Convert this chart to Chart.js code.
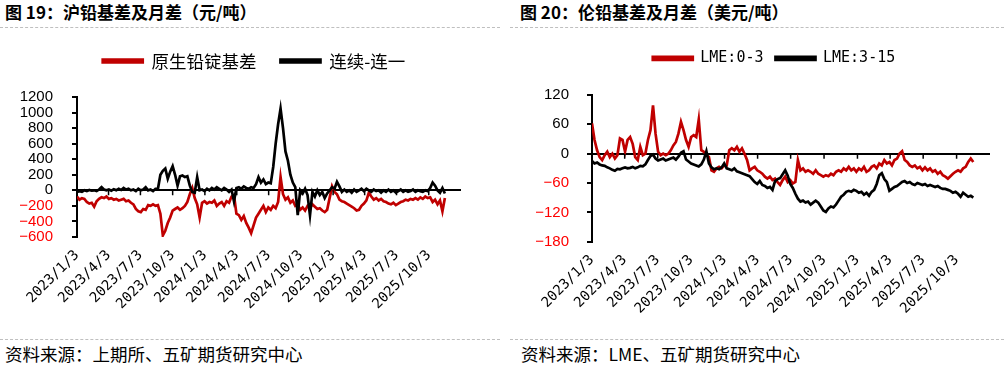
<!DOCTYPE html>
<html><head><meta charset="utf-8">
<script src="https://cdn.jsdelivr.net/npm/chart.js@4.4.0/dist/chart.umd.min.js"></script>
<style>
body{margin:0;width:1004px;height:368px;background:#fff;position:relative;overflow:hidden;font-family:"Noto Sans CJK SC",sans-serif}
.title{position:absolute;top:0;font-weight:bold;font-size:17px;line-height:23px;white-space:nowrap;color:#000}
.src{position:absolute;top:343px;font-size:17.5px;line-height:22px;white-space:nowrap;color:#000}
.dash{position:absolute;height:0;border-top:1px dashed #BFBFBF}
canvas{position:absolute}
</style></head>
<body>
<div class="title" style="left:5px">图 19：沪铅基差及月差（元/吨）</div>
<div class="title" style="left:520px">图 20：伦铅基差及月差（美元/吨）</div>
<div class="dash" style="left:0;top:27px;width:500px"></div>
<div class="dash" style="left:510px;top:27px;width:494px"></div>
<div class="dash" style="left:0;top:339px;width:500px"></div>
<div class="dash" style="left:510px;top:339px;width:494px"></div>
<div class="src" style="left:5px">资料来源：上期所、五矿期货研究中心</div>
<div class="src" style="left:521px">资料来源：LME、五矿期货研究中心</div>
<canvas id="c1" width="508" height="310" style="left:0;top:20px"></canvas>
<canvas id="c2" width="528" height="310" style="left:510px;top:20px"></canvas>
<script>
// ---- data (weekly observations starting 2023/1/3) ----
const startDate = '2023/1/3';
const axisEndDate = '2026/1/3';
const stepDays = 7;
const xTickLabels = ['2023/1/3','2023/4/3','2023/7/3','2023/10/3','2024/1/3','2024/4/3','2024/7/3','2024/10/3','2025/1/3','2025/4/3','2025/7/3','2025/10/3'];
const yTicks1 = [-600,-400,-200,0,200,400,600,800,1000,1200];
const yTickLabels1 = ['\u2212600','\u2212400','\u2212200','0','200','400','600','800','1000','1200'];
const yTicks2 = [-180,-120,-60,0,60,120];
const yTickLabels2 = ['\u2212180','\u2212120','\u221260','0','60','120'];

const seriesNames1 = ['原生铅锭基差','连续-连一'];
const shBasis = [-80,-120,-100,-110,-150,-170,-160,-210,-140,-110,
 -90,-100,-80,-110,-100,-120,-110,-130,-120,-110,
 -140,-130,-160,-180,-240,-270,-280,-240,-250,-190,
 -200,-180,-200,-190,-300,-580,-520,-420,-350,-260,
 -240,-220,-250,-230,-200,-150,-50,30,-100,-180,
 -350,-160,-140,-170,-150,-160,-130,-200,-170,-150,
 -200,-140,-160,-80,-60,-300,-320,-380,-330,-420,
 -480,-550,-450,-350,-300,-250,-200,-280,-220,-250,
 -200,-230,-150,170,-50,-120,-90,-160,-130,-200,
 -180,-250,-220,-260,-200,-230,-180,-210,-240,-230,
 -260,-280,-250,-100,50,-20,-50,-120,-140,-150,
 -170,-190,-210,-230,-260,-250,-200,-170,-130,-30,
 -80,-120,-100,-130,-110,-140,-150,-170,-180,-160,
 -190,-170,-150,-140,-120,-130,-110,-120,-100,-120,
 -90,-110,-80,-100,-90,-150,-120,-180,-130,-270,-100];
const shSpread = [-20,-10,-20,0,-10,5,-5,0,-10,10,
 40,10,0,10,-5,15,0,20,5,30,
 10,20,0,10,-10,20,0,10,40,0,
 10,-10,20,20,200,250,280,150,240,310,
 200,60,180,190,170,180,60,-20,-30,170,
 0,10,-10,20,0,30,10,40,20,0,
 30,10,-20,10,-140,30,40,20,50,30,
 20,40,30,80,170,100,140,80,100,90,
 300,600,850,1050,800,500,380,200,100,40,
 -320,0,-40,20,-60,-320,-20,-80,0,-60,
 -20,-100,-40,0,40,20,110,50,-20,10,
 -20,0,-30,10,-20,0,20,-10,20,0,
 -20,10,-10,0,-30,0,-20,10,-20,0,
 -30,-10,10,-20,0,-20,-10,10,-20,0,
 -10,-20,0,-10,30,100,60,0,-30,30,-40];

const seriesNames2 = ['LME:0-3','LME:3-15'];
const lme03 = [62,28,7,-7,-13,-3,4,-7,0,-10,
 -3,31,28,4,28,34,20,-7,-13,14,
 -3,0,28,48,99,41,4,-3,0,-3,
 0,7,17,24,41,65,48,28,14,34,
 38,34,70,7,4,-3,-7,-34,-37,-30,
 -27,-30,-24,-24,7,11,7,14,4,11,
 0,-13,-34,-30,-27,-34,-37,-41,-47,-51,
 -47,-54,-51,-58,-64,-54,-47,-58,-54,-61,
 -58,-13,-34,-30,-37,-34,-37,-41,-34,-41,
 -44,-47,-44,-46,-41,-44,-37,-34,-37,-30,
 -34,-27,-34,-30,-37,-30,-34,-27,-37,-34,
 -27,-24,-30,-20,-24,-13,-20,-17,-24,-13,
 -10,0,5,-13,-17,-24,-27,-24,-30,-27,
 -34,-28,-34,-30,-37,-34,-41,-37,-44,-47,
 -51,-46,-41,-37,-34,-37,-30,-27,-17,-10,-17];
const lme315 = [-15,-20,-18,-22,-24,-25,-28,-30,-33,-35,
 -31,-32,-30,-28,-30,-29,-27,-30,-28,-25,
 -26,-22,-13,-5,-2,-10,-14,-12,-10,-14,
 -12,-10,-8,-12,-6,2,5,-12,-16,-20,
 -22,-24,-26,-22,-12,5,-20,-28,-32,-30,
 -32,-28,-20,-30,-32,-34,-30,-36,-38,-40,
 -42,-44,-46,-52,-58,-62,-56,-64,-66,-70,
 -68,-74,-56,-52,-50,-42,-34,-45,-62,-70,
 -82,-92,-98,-96,-100,-98,-104,-100,-96,-100,
 -108,-116,-119,-112,-108,-110,-104,-96,-88,-84,
 -78,-76,-78,-74,-76,-80,-78,-84,-80,-86,
 -78,-74,-62,-44,-40,-52,-58,-76,-72,-68,
 -66,-62,-58,-56,-60,-58,-62,-64,-60,-62,
 -64,-62,-66,-64,-66,-68,-66,-70,-72,-72,
 -74,-76,-80,-78,-82,-88,-80,-84,-88,-86,-90];

// ---- helpers ----
function dayOf(s){const [y,m,d]=s.split('/').map(Number);const [y0,m0,d0]=startDate.split('/').map(Number);
  return Math.round((Date.UTC(y,m-1,d)-Date.UTC(y0,m0-1,d0))/86400000);}
const xTickValues = xTickLabels.map(dayOf);
const xMax = dayOf(axisEndDate);
const pts = arr => arr.map((v,i)=>({x:i*stepDays,y:v}));
const RED='#C00000', BLACK='#000000', NEG='#FF0000';

const legendSpace = {id:'legendSpace', beforeInit(chart, args, opts){
  const fit = chart.legend.fit;
  chart.legend.fit = function(){ fit.call(this); this.height += opts.extra; };
}};
const zeroTicks = {id:'zeroTicks', afterDatasetsDraw(chart){
  const {ctx} = chart; const xs = chart.scales.x, ys = chart.scales.y;
  const y0 = ys.getPixelForValue(0);
  ctx.save(); ctx.strokeStyle='#000'; ctx.lineWidth=1.5; ctx.beginPath();
  xs.ticks.forEach(t=>{const px=xs.getPixelForValue(t.value); ctx.moveTo(px,y0); ctx.lineTo(px,y0+5);});
  ctx.stroke(); ctx.restore();
}};

function makeChart(id, names, s1, s2, yTicks, yLabels, cfg){
  return new Chart(document.getElementById(id), {
    type:'line',
    data:{datasets:[
      {label:names[0], data:pts(s1), borderColor:RED, backgroundColor:RED, borderWidth:2.7, pointRadius:0, tension:0, order:1},
      {label:names[1], data:pts(s2), borderColor:BLACK, backgroundColor:BLACK, borderWidth:2.7, pointRadius:0, tension:0, order:0}
    ]},
    options:{
      responsive:false, animation:false, devicePixelRatio:1,
      layout:{padding:{left:cfg.padL, top:cfg.padT, right:0, bottom:0}},
      plugins:{
        legend:{display:true, position:'top', align:'center',
          labels:{boxWidth:40, boxHeight:3, padding:cfg.legPad, color:'#000', font:cfg.legFont,
            sort:(a,b)=>a.datasetIndex-b.datasetIndex}},
        tooltip:{enabled:false},
        legendSpace:{extra:cfg.extra}
      },
      scales:{
        x:{type:'linear', position:'bottom', min:0, max:xMax,
          afterBuildTicks:s=>{s.ticks = xTickValues.map(v=>({value:v}));},
          afterFit:s=>{s.height = cfg.xH;},
          grid:{display:false, drawTicks:false}, border:{display:false},
          ticks:{autoSkip:false, maxRotation:45, minRotation:45, padding:cfg.xPad, color:'#000',
            font:{family:'"DejaVu Sans Mono"', size:14},
            callback:(v,i)=>xTickLabels[i]}
        },
        y:{type:'linear', position:'left', min:yTicks[0], max:yTicks[yTicks.length-1],
          afterBuildTicks:s=>{s.ticks = yTicks.map(v=>({value:v}));},
          afterFit:s=>{s.width = cfg.yW;},
          border:{display:true, color:'#000', width:2},
          grid:{drawOnChartArea:true, color:c=>(yTicks[c.index]===0) ? '#000' : 'rgba(0,0,0,0)', lineWidth:2,
            drawTicks:true, tickLength:5, tickColor:'#000', tickWidth:2},
          ticks:{autoSkip:false, padding:cfg.yPad, font:{family:'"Liberation Sans", Arial', size:15},
            color:c=>(yTicks[c.index]<0) ? NEG : '#000',
            callback:(v,i)=>yLabels[i]}
        },
        yR:{type:'linear', position:'right', display:true,
          afterFit:s=>{s.width = cfg.rW;},
          grid:{display:false, drawTicks:false}, border:{display:false}, ticks:{display:false}}
      }
    },
    plugins:[legendSpace, zeroTicks]
  });
}

makeChart('c1', seriesNames1, shBasis, shSpread, yTicks1, yTickLabels1, {padL:0, padT:8.25, legPad:24, extra:17.25,
  legFont:{family:'"Noto Sans CJK SC"', size:17.5}, xH:93, xPad:10, yW:77, rW:47, yPad:19});
makeChart('c2', seriesNames2, lme03, lme315, yTicks2, yTickLabels2, {padL:0, padT:18.8, legPad:12, extra:19.2,
  legFont:{family:'"DejaVu Sans Mono"', size:15}, xH:88.3, xPad:10, yW:82, rW:48, yPad:18});
</script>
</body></html>
